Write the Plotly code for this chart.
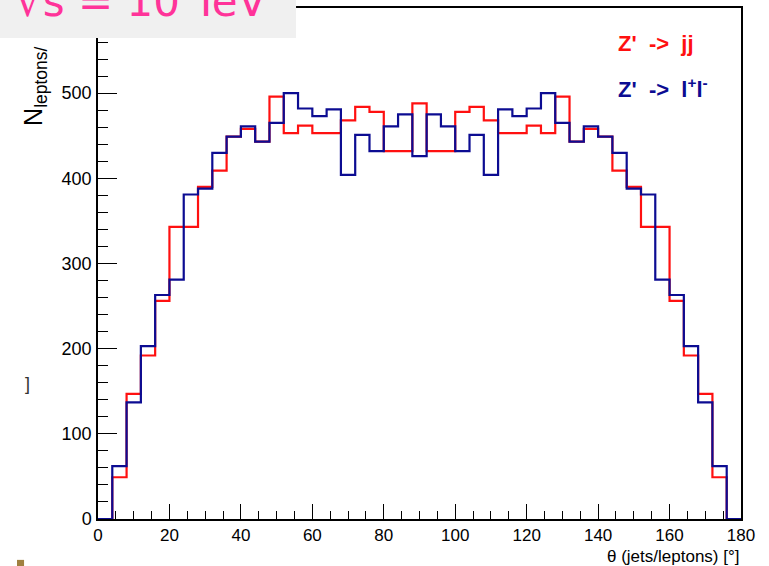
import plotly.graph_objects as go

# bin edges (degrees), 4-degree bins from 0 to 180
bin_edges = list(range(0, 184, 4))

# Z' -> jj (red)
jj_counts = [0, 49, 147, 192, 256, 343, 343, 390, 409, 449, 458, 443, 496, 453, 462,
             453, 453, 468, 484, 478, 432, 432, 488, 432, 432, 478, 484, 468, 453, 453,
             462, 453, 496, 443, 458, 449, 409, 390, 343, 343, 256, 192, 147, 49, 0]

# Z' -> l+l- (blue)
ll_counts = [0, 62, 137, 203, 263, 281, 381, 388, 430, 449, 461, 443, 465, 500, 482,
             473, 481, 404, 451, 432, 461, 475, 426, 475, 461, 432, 451, 404, 481, 473,
             482, 500, 465, 443, 461, 449, 430, 388, 381, 281, 263, 203, 137, 62, 0]

x_ticks = [0, 20, 40, 60, 80, 100, 120, 140, 160, 180]
y_ticks = [0, 100, 200, 300, 400, 500]

RED = "#ff1010"
BLUE = "#0c0c92"

fig = go.Figure()
fig.add_trace(go.Scatter(x=bin_edges, y=jj_counts + [jj_counts[-1]], mode="lines",
                         line=dict(color=RED, width=2.2, shape="hv"), showlegend=False,
                         cliponaxis=False))
fig.add_trace(go.Scatter(x=bin_edges, y=ll_counts + [ll_counts[-1]], mode="lines",
                         line=dict(color=BLUE, width=2.2, shape="hv"), showlegend=False,
                         cliponaxis=False))

font_fam = "Liberation Sans, Arial, sans-serif"

fig.update_layout(
    width=769, height=566,
    margin=dict(l=98, r=28, t=6, b=47),
    paper_bgcolor="white", plot_bgcolor="white",
    font=dict(family=font_fam, color="black"),
    xaxis=dict(range=[0, 180], tickvals=x_ticks, ticktext=[str(v) for v in x_ticks],
               ticks="inside", ticklen=15, tickwidth=1.2, tickcolor="black",
               minor=dict(dtick=5, ticks="inside", ticklen=8, tickwidth=1.2, tickcolor="black"),
               showgrid=False, zeroline=False, showline=True, linecolor="black", linewidth=1.5,
               mirror=True, tickfont=dict(size=17, family=font_fam), ticklabelstandoff=0),
    yaxis=dict(range=[0, 600], tickvals=y_ticks, ticktext=[str(v) for v in y_ticks],
               ticks="inside", ticklen=19, tickwidth=1.2, tickcolor="black",
               minor=dict(dtick=20, ticks="inside", ticklen=10, tickwidth=1.2, tickcolor="black"),
               showgrid=False, zeroline=False, showline=True, linecolor="black", linewidth=1.5,
               mirror=True, tickfont=dict(size=18, family=font_fam), ticklabelstandoff=1),
)

fig.add_shape(type="rect", xref="paper", yref="paper", x0=-0.16, x1=0.308, y0=0.9415, y1=1.03,
              fillcolor="#f0f0f0", line=dict(width=0), layer="above")
fig.add_shape(type="rect", xref="paper", yref="paper", x0=-0.126, x1=-0.115, y0=-0.092, y1=-0.08,
              fillcolor="#a08040", line=dict(width=0), layer="above")

annotations = [
    dict(text="N<sub>leptons/</sub>", x=-0.099, y=0.765, xref="paper", yref="paper",
         textangle=-90, xanchor="center", yanchor="bottom", showarrow=False,
         font=dict(size=25, family=font_fam, color="black")),
    dict(text="θ (jets/leptons) [°]", x=1.0, y=-0.05, xref="paper", yref="paper",
         xanchor="right", yanchor="top", showarrow=False,
         font=dict(size=17, family=font_fam, color="black")),
    dict(text="<b>Z'  ->  jj</b>", x=0.805, y=0.93, xref="paper", yref="paper",
         xanchor="left", yanchor="middle", showarrow=False,
         font=dict(size=22, family=font_fam, color=RED)),
    dict(text="<b>Z'  ->  l<sup>+</sup>l<sup>-</sup></b>", x=0.805, y=0.843, xref="paper", yref="paper",
         xanchor="left", yanchor="middle", showarrow=False,
         font=dict(size=22, family=font_fam, color=BLUE)),
    dict(text="√s = 10 TeV", x=0.067, y=1.012, xref="paper", yref="paper",
         xanchor="center", yanchor="middle", showarrow=False,
         font=dict(size=42, family="DejaVu Sans, sans-serif", color="#ff3399")),
    dict(text="]", x=-0.11, y=0.265, xref="paper", yref="paper",
         xanchor="center", yanchor="middle", showarrow=False,
         font=dict(size=18, family=font_fam, color="#333333")),
]
fig.update_layout(annotations=annotations)

fig.write_html("out.html")
